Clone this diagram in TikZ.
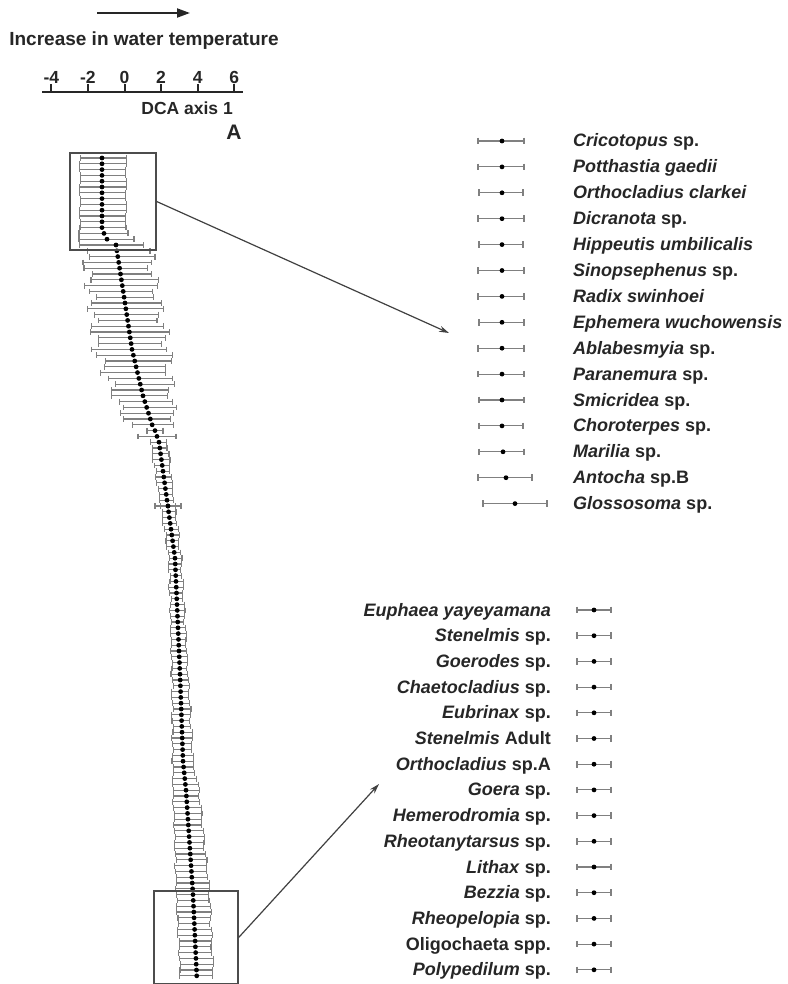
\documentclass[tikz,border=0pt]{standalone}
\usepackage{fontspec}
\setmainfont{Liberation Sans}
\usepackage{tikz}
\usetikzlibrary{arrows.meta, positioning}

\newcommand{\genus}[1]{\textit{#1}}
% one error bar: y, lower, mean, upper, cap
\newcommand{\ebar}[5]{%
  \draw[errbar] ({#2},{#1}) -- ({#4},{#1})
    ({#2},{#1-#5}) -- ({#2},{#1+#5}) ({#4},{#1-#5}) -- ({#4},{#1+#5});
  \fill[black] ({#3},{#1}) circle[radius=2.4pt];
}

\begin{document}
\begin{tikzpicture}[x=1pt, y=-1pt,
  lbl/.style={font=\fontsize{18}{20}\selectfont\bfseries, text=black!85, inner sep=0pt},
  axislbl/.style={lbl, font=\fontsize{17.5}{19}\selectfont\bfseries},
  axisline/.style={draw=black!85, line width=2pt},
  errbar/.style={draw=black!50, line width=1.1pt},
  zoombox/.style={draw=black!70, line width=1.3pt, inner sep=0pt},
  zoomarrow/.style={draw=black!75, line width=1.2pt, -{Stealth[length=10pt, width=6pt]}},
  warmarrow/.style={draw=black!85, line width=2pt, -{Triangle[length=13pt, width=9pt]}}
]
\useasboundingbox (0,0) rectangle (787,984);
\clip (0,0) rectangle (787,984);

% gradient arrow and DCA axis
\coordinate (warm0) at (97,13);
\coordinate (warm1) at (190,13);
\draw[warmarrow] (warm0) -- (warm1);
\node[lbl, font=\fontsize{19}{21}\selectfont\bfseries, anchor=base] (title) at (144,45.5) {Increase in water temperature};

\draw[axisline] (42,92) -- (243,92);
\foreach \v [count=\n] in {-4,-2,...,6} {
  \draw[axisline] (124.5+18.3*\v,92) -- ++(0,-8);
  \node[axislbl, anchor=base] (tick\n) at (124.5+18.3*\v,83.5) {\v};
}
\node[axislbl, anchor=base east] (dcalbl) at (233,115) {DCA axis 1};
\node[lbl, font=\fontsize{21}{23}\selectfont\bfseries, anchor=base] (panel) at (234,140) {A};

% column of taxa along axis 1
\foreach \i in {1,...,13} {
  \pgfmathsetmacro\yy{158+(\i-1)*5.8}
  \ebar{\yy}{80+0.8*sin(\i*97)}{102}{126+0.8*sin(\i*83)}{2.9}
}
\ebar{158+13*5.8}{79}{104}{128}{2.9}
\ebar{158+14*5.8}{79}{107}{134}{2.9}
\foreach \ia/\ib/\xa/\xb/\wa/\wb/\jit in {
    16/26/116/125/32/33/5, 26/34/125/132/33/36/5, 34/42/132/143/36/28/5,
    42/48/143/154/28/22/4, 48/49/155/155/8/8/0, 49/50/157/157/19/19/0,
    50/70/159/175/8/6/1, 70/90/175/180/6/8/1, 90/105/180/183/8/10/1,
    105/110/183/186/10/13/1, 110/128/186/193/13/16.5/1, 128/143/193/197/16.5/16.5/1} {
  \pgfmathtruncatemacro\ibm{\ib-1}
  \foreach \i in {\ia,...,\ibm} {
    \pgfmathsetmacro\t{(\i-\ia)/(\ib-\ia)}
    \pgfmathsetmacro\m{\xa+\t*(\xb-\xa)}
    \pgfmathsetmacro\w{\wa+\t*(\wb-\wa)}
    \pgfmathsetmacro\yy{158+(\i-1)*5.8}
    \ebar{\yy}{\m-\w-\jit*sin(\i*97)}{\m}{\m+\w+\jit*sin(\i*83+40)}{2.9}
  }
}
\ebar{158+60*5.8}{155}{168}{181}{2.9}

% zoom boxes
\node[zoombox, minimum width=86pt, minimum height=97pt] (topbox) at (113,201.5) {};
\node[zoombox, minimum width=84pt, minimum height=93pt] (botbox) at (196,937.5) {};

% lowest scores
\foreach \k/\l/\m/\r/\txt in {
    1/478/502/524/\genus{Cricotopus} sp.,
    2/478/502/524/\genus{Potthastia gaedii},
    3/479/502/523/\genus{Orthocladius clarkei},
    4/478/502/524/\genus{Dicranota} sp.,
    5/479/502/523/\genus{Hippeutis umbilicalis},
    6/478/502/524/\genus{Sinopsephenus} sp.,
    7/478/502/524/\genus{Radix swinhoei},
    8/479/502/524/\genus{Ephemera wuchowensis},
    9/478/502/524/\genus{Ablabesmyia} sp.,
    10/478/502/524/\genus{Paranemura} sp.,
    11/479/502/524/\genus{Smicridea} sp.,
    12/479/502/523/\genus{Choroterpes} sp.,
    13/479/503/524/\genus{Marilia} sp.,
    14/478/506/532/\genus{Antocha} sp.B,
    15/483/515/547/\genus{Glossosoma} sp.} {
  \pgfmathsetmacro\yy{141+(\k-1)*25.9}
  \node[lbl, anchor=base west] (low\k) at (573,\yy+6) {\txt};
  \ebar{\yy}{\l}{\m}{\r}{3.3}
}

% highest scores
\foreach \k/\txt in {
    1/\genus{Euphaea yayeyamana}, 2/\genus{Stenelmis} sp., 3/\genus{Goerodes} sp.,
    4/\genus{Chaetocladius} sp., 5/\genus{Eubrinax} sp., 6/\genus{Stenelmis} Adult,
    7/\genus{Orthocladius} sp.A, 8/\genus{Goera} sp., 9/\genus{Hemerodromia} sp.,
    10/\genus{Rheotanytarsus} sp., 11/\genus{Lithax} sp., 12/\genus{Bezzia} sp.,
    13/\genus{Rheopelopia} sp., 14/Oligochaeta spp., 15/\genus{Polypedilum} sp.} {
  \pgfmathsetmacro\yy{610+(\k-1)*25.7}
  \node[lbl, anchor=base east] (high\k) at (551,\yy+6) {\txt};
  \ebar{\yy}{577}{594}{611}{3.3}
}

\coordinate (topzoom) at (449,333);
\coordinate (botzoom) at (379,784);
\draw[zoomarrow] (topbox.east) -- (topzoom);
\draw[zoomarrow] (botbox.east) -- (botzoom);

\end{tikzpicture}
\end{document}
